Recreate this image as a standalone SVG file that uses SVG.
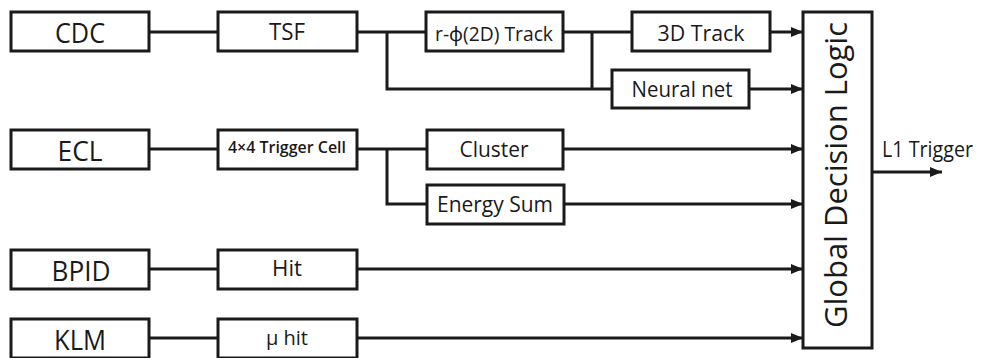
<svg xmlns="http://www.w3.org/2000/svg" width="984" height="358" viewBox="0 0 984 358">
<defs>
<style>
.box{fill:#fff;stroke:#1a1a1a;stroke-width:3}
.ln{fill:none;stroke:#1a1a1a;stroke-width:3}
text{font-family:"Open Sans","Noto Sans","DejaVu Sans",sans-serif;fill:#1a1a1a;text-anchor:middle}
</style>
<marker id="ah" viewBox="0 0 12 10" refX="12" refY="5" markerWidth="12" markerHeight="10" markerUnits="userSpaceOnUse" orient="auto">
<path d="M0,0 L12,5 L0,10 Z" fill="#1a1a1a"/>
</marker>
</defs>
<rect width="984" height="358" fill="#fff"/>
<g id="connectors">
<path class="ln" d="M149,32 H218"/>
<path class="ln" d="M357,32 H426"/>
<path class="ln" d="M387,32 V89 H612"/>
<path class="ln" d="M563,32 H632"/>
<path class="ln" d="M592,32 V89"/>
<path class="ln" d="M770,32 H803" marker-end="url(#ah)"/>
<path class="ln" d="M749,89 H803" marker-end="url(#ah)"/>
<path class="ln" d="M149,149 H218"/>
<path class="ln" d="M357,149 H427"/>
<path class="ln" d="M387,149 V204 H427"/>
<path class="ln" d="M563,149 H803" marker-end="url(#ah)"/>
<path class="ln" d="M564,204 H803" marker-end="url(#ah)"/>
<path class="ln" d="M149,269 H218"/>
<path class="ln" d="M357,269 H803" marker-end="url(#ah)"/>
<path class="ln" d="M149,338 H218"/>
<path class="ln" d="M357,338 H803" marker-end="url(#ah)"/>
<path class="ln" d="M872,172 H942" marker-end="url(#ah)"/>
</g>
<g id="cdc"><rect class="box" x="11" y="12" width="138" height="39"/><text x="80" y="43" font-size="28" textLength="50" lengthAdjust="spacingAndGlyphs">CDC</text></g>
<g id="tsf"><rect class="box" x="218" y="12" width="139" height="39"/><text x="287" y="40" font-size="23" textLength="36" lengthAdjust="spacingAndGlyphs">TSF</text></g>
<g id="rphi"><rect class="box" x="426" y="12" width="137" height="39"/><text x="494" y="41" font-size="20" textLength="118" lengthAdjust="spacingAndGlyphs">r-ϕ(2D) Track</text></g>
<g id="track3d"><rect class="box" x="632" y="12" width="138" height="39"/><text x="701" y="41" font-size="22" textLength="87" lengthAdjust="spacingAndGlyphs">3D Track</text></g>
<g id="neural"><rect class="box" x="612" y="70" width="137" height="38"/><text x="682" y="97" font-size="21" textLength="101" lengthAdjust="spacingAndGlyphs">Neural net</text></g>
<g id="ecl"><rect class="box" x="11" y="130" width="138" height="39"/><text x="80" y="161" font-size="27" textLength="45" lengthAdjust="spacingAndGlyphs">ECL</text></g>
<g id="trigcell"><rect class="box" x="218" y="130" width="139" height="39"/><text x="287" y="153" font-size="16" font-weight="600" textLength="118" lengthAdjust="spacingAndGlyphs">4×4 Trigger Cell</text></g>
<g id="cluster"><rect class="box" x="427" y="130" width="136" height="39"/><text x="494" y="157" font-size="22" textLength="69" lengthAdjust="spacingAndGlyphs">Cluster</text></g>
<g id="esum"><rect class="box" x="427" y="185" width="137" height="39"/><text x="495" y="212" font-size="21" textLength="116" lengthAdjust="spacingAndGlyphs">Energy Sum</text></g>
<g id="bpid"><rect class="box" x="11" y="250" width="138" height="39"/><text x="81" y="281" font-size="28" textLength="59" lengthAdjust="spacingAndGlyphs">BPID</text></g>
<g id="hit"><rect class="box" x="218" y="250" width="139" height="39"/><text x="287" y="276" font-size="21" textLength="30" lengthAdjust="spacingAndGlyphs">Hit</text></g>
<g id="klm"><rect class="box" x="11" y="319" width="138" height="39"/><text x="80" y="350" font-size="28" textLength="52" lengthAdjust="spacingAndGlyphs">KLM</text></g>
<g id="muhit"><rect class="box" x="218" y="319" width="139" height="39"/><text x="287" y="345" font-size="20" textLength="42" lengthAdjust="spacingAndGlyphs">μ hit</text></g>
<g id="gdl"><rect class="box" x="803" y="12" width="69" height="336"/><text transform="translate(847,175) rotate(-90)" font-size="31" textLength="306" lengthAdjust="spacingAndGlyphs">Global Decision Logic</text></g>
<g id="l1"><text x="882" y="157" font-size="22" text-anchor="start" style="text-anchor:start" textLength="91" lengthAdjust="spacingAndGlyphs">L1 Trigger</text></g>
</svg>
